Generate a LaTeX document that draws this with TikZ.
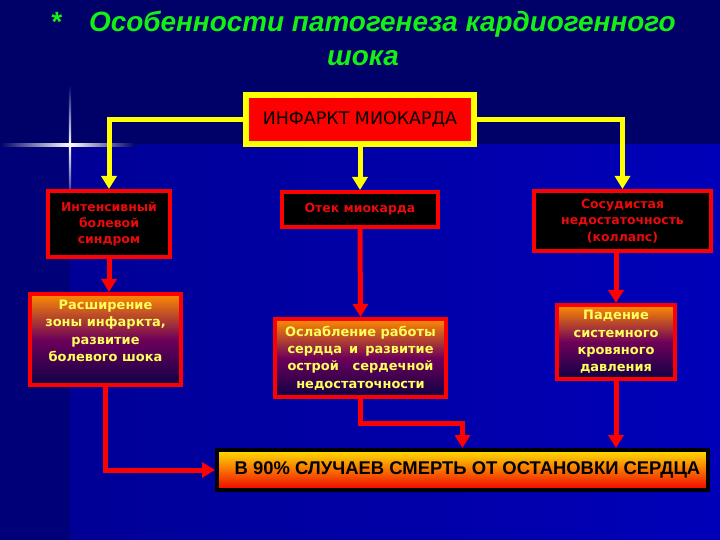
\documentclass[tikz,border=0pt]{standalone}
\usepackage{fontspec}
\setmainfont{DejaVu Sans}
\newfontfamily\titlefont{Liberation Sans}
\usetikzlibrary{arrows.meta}

\definecolor{bgnavy}{RGB}{0,0,105}
\definecolor{bgblue}{RGB}{0,0,150}
\definecolor{bgbright}{RGB}{0,0,185}
\definecolor{stripblue}{RGB}{0,0,120}
\definecolor{titlegreen}{RGB}{20,240,20}
\definecolor{boxred}{RGB}{255,0,0}
\definecolor{linkyellow}{RGB}{255,255,0}
\definecolor{txtred}{RGB}{235,10,10}
\definecolor{txtyellow}{RGB}{255,255,90}
\definecolor{shorange}{RGB}{255,140,0}
\definecolor{shpurple}{RGB}{110,0,90}
\definecolor{shnavy}{RGB}{15,0,70}
\definecolor{endyellow}{RGB}{255,225,0}
\definecolor{endred}{RGB}{240,0,0}

\begin{document}
\begin{tikzpicture}[x=1bp,y=-1bp,
  topbox/.style={draw=linkyellow,fill=boxred,line width=6bp,inner sep=0pt,
    minimum width=228bp,minimum height=49bp,font=\fontsize{17.5}{20}\selectfont},
  causebox/.style={draw=boxred,fill=black,line width=4bp,inner sep=0pt,
    text=txtred,align=center,font=\bfseries\fontsize{12.5}{16.5}\selectfont},
  effectbox/.style={draw=boxred,line width=4bp,inner sep=0pt,text=txtyellow,
    align=center,font=\bfseries\fontsize{13}{17.5}\selectfont,
    top color=shorange,bottom color=shnavy,middle color=shpurple},
  endbox/.style={draw=black,line width=4bp,inner sep=0pt,
    top color=endyellow,bottom color=endred,
    minimum width=491bp,minimum height=40bp,
    font=\titlefont\bfseries\fontsize{18.5}{20}\selectfont},
  ylink/.style={draw=linkyellow,line width=5bp,-{Triangle[width=15bp,length=13bp]}},
  rlink/.style={draw=boxred,line width=5bp,-{Triangle[width=15bp,length=13bp]}}]
\useasboundingbox (0,0) rectangle (720,540);
\fill[bgnavy] (0,0) rectangle (720,540);
\fill[stripblue] (0,145) rectangle (70,540);
\shade[left color=bgblue,right color=bgbright] (70,145) rectangle (720,540);
\shade[left color=bgnavy,right color=white] (0,144) rectangle (70,146.5);
\shade[left color=white,right color=bgnavy] (70,144) rectangle (135,146.5);
\shade[top color=bgnavy,bottom color=white] (68.8,85) rectangle (71.2,145);
\shade[top color=white,bottom color=stripblue] (68.8,145) rectangle (71.2,205);

\node[font=\titlefont\bfseries\itshape\fontsize{28}{34}\selectfont,text=titlegreen,
  align=center] (title) at (363,38) {*\quad Особенности патогенеза кардиогенного\\шока};

\node[topbox] (mi) at (360,119.5) {ИНФАРКТ МИОКАРДА};

\node[causebox,minimum width=122bp,minimum height=66bp] (pain) at (109,224)
  {Интенсивный\\болевой\\синдром};
\node[causebox,minimum width=156bp,minimum height=35bp] (edema) at (360,209.5)
  {Отек миокарда};
\node[causebox,minimum width=177bp,minimum height=60bp] (vasc) at (622.5,221)
  {Сосудистая\\недостаточность\\(коллапс)};

\node[effectbox,minimum width=151bp,minimum height=91bp] (expand) at (105.5,339.5)
  {Расширение\\зоны инфаркта,\\развитие\\болевого шока\\\mbox{}};
\node[effectbox,minimum width=171bp,minimum height=78bp] (weak) at (360.5,358)
  {Ослабление работы\\\hbox to 146bp{сердца\hfill и\hfill развитие}\\
   \hbox to 146bp{острой\hfill сердечной}\\недостаточности};
\node[effectbox,minimum width=118bp,minimum height=74bp] (drop) at (616,342)
  {Падение\\системного\\кровяного\\давления};

\node[endbox] (death) at (462.5,470)
  {\hspace*{10bp}В 90\% СЛУЧАЕВ СМЕРТЬ ОТ ОСТАНОВКИ СЕРДЦА};

\draw[ylink] (mi.west) -| (pain.north);
\draw[ylink] (mi.south) -- (edema.north);
\draw[ylink] (mi.east) -| (vasc.north);

\draw[rlink] (pain.south) -- (pain.south |- expand.north);
\draw[rlink] (edema.south) -- (weak.north);
\draw[rlink] (drop.north |- vasc.south) -- (drop.north);

\draw[rlink] (expand.south) |- (death.west);
\draw[rlink] (weak.south) -- ++(0,24) -| (death.north);
\draw[rlink] (drop.south) -- (drop.south |- death.north);
\end{tikzpicture}
\end{document}
